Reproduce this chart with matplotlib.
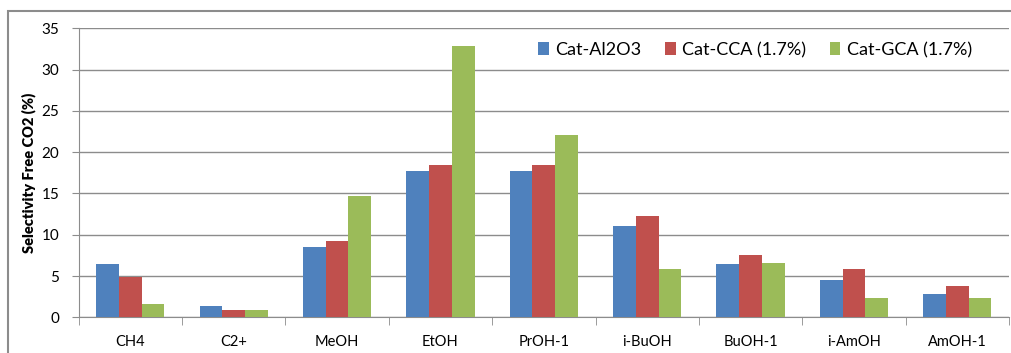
import numpy as np
import matplotlib.pyplot as plt
from matplotlib.patches import Rectangle

categories = ["CH4", "C2+", "MeOH", "EtOH", "PrOH-1", "i-BuOH", "BuOH-1", "i-AmOH", "AmOH-1"]
cat_al2o3 = [6.5, 1.35, 8.5, 17.7, 17.7, 11.0, 6.5, 4.5, 2.8]
cat_cca = [4.9, 0.9, 9.2, 18.5, 18.4, 12.3, 7.6, 5.8, 3.8]
cat_gca = [1.6, 0.9, 14.7, 32.8, 22.1, 5.9, 6.6, 2.3, 2.3]
series_names = ["Cat-Al2O3", "Cat-CCA (1.7%)", "Cat-GCA (1.7%)"]
colors = ["#4F81BD", "#C0504D", "#9BBB59"]

plt.rcParams['font.family'] = ['Lato', 'DejaVu Sans']

fig = plt.figure(figsize=(10.11, 3.53), dpi=100)
fig.patches.append(Rectangle((8 / 1011, -0.1), 1.2, (353 - 11) / 353 + 0.1,
                             transform=fig.transFigure, fill=False,
                             edgecolor="#8c8c8c", linewidth=1.5))
ax = fig.add_axes([78.7 / 1011, 35.7 / 353, (1009 - 78.7) / 1011, 289 / 353])

x = np.arange(len(categories))
w = 0.22
for i, (vals, name, c) in enumerate(zip([cat_al2o3, cat_cca, cat_gca], series_names, colors)):
    ax.bar(x + (i - 1) * w, vals, w, color=c, label=name, zorder=3)

ax.set_xlim(-0.5, len(categories) - 0.5)
ax.set_ylim(0, 35)
ax.set_yticks(range(0, 36, 5))
ax.grid(axis='y', color='#8c8c8c', linewidth=1)
ax.set_axisbelow(True)

for s in ['top', 'right']:
    ax.spines[s].set_visible(False)
ax.spines['left'].set_color('#8c8c8c')
ax.spines['bottom'].set_color('#8c8c8c')

ax.set_xticks(x)
ax.set_xticklabels(categories, fontsize=10.5)
ax.set_xticks(np.arange(-0.5, len(categories)), minor=True)
ax.tick_params(axis='x', which='major', length=0, pad=13)
ax.tick_params(axis='x', which='minor', length=6, color='#8c8c8c')
ax.tick_params(axis='y', length=5, color='#8c8c8c', labelsize=11, pad=9)

ax.set_ylabel("Selectivity Free CO2 (%)", fontsize=10.5, fontweight='heavy', labelpad=4)

ax.legend(loc='center left', bbox_to_anchor=((531 - 78.7) / (1009 - 78.7), (317.3 - 50) / 289),
          ncol=3, frameon=False, fontsize=13, handlelength=0.6, handleheight=0.7,
          handletextpad=0.35, columnspacing=1.3, borderaxespad=0)

fig.savefig("out.png", dpi=100)
